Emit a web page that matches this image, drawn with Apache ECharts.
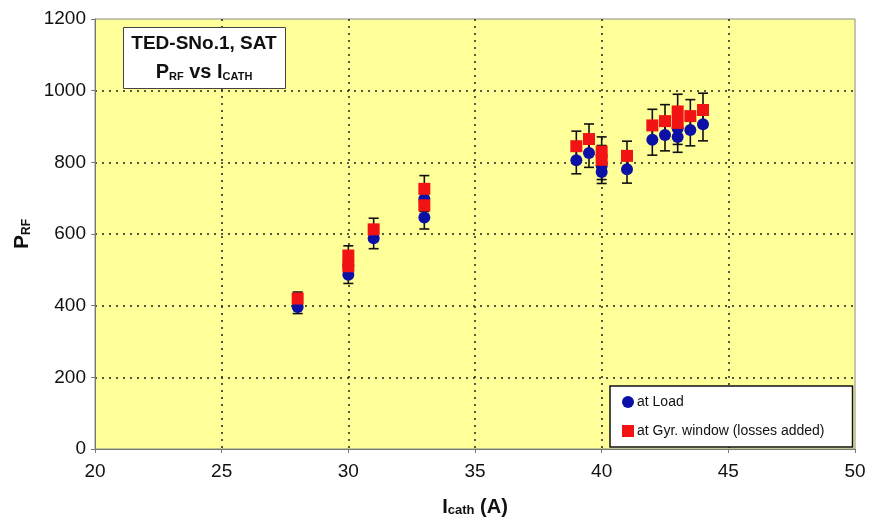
<!DOCTYPE html>
<html>
<head>
<meta charset="utf-8">
<script src="https://cdn.jsdelivr.net/npm/echarts@6/dist/echarts.min.js"></script>
<style>
  html, body { margin: 0; padding: 0; background: #fff; }
  #chart { width: 872px; height: 517px; }
</style>
</head>
<body>
<div id="chart"></div>
<script>
// P_RF vs I_cath, TED-SNo.1 SAT

// ---- data ----
const loadX   = [28, 30, 30, 31, 33, 33, 39, 39.5, 40, 40, 41, 42, 42.5, 43, 43, 43.5, 44];
const loadY   = [396, 486, 512, 588, 646, 698, 806, 826, 773, 790, 781, 863, 876, 871, 895, 890, 906];
const loadErr = [18, 24, 26, 29, 32, 35, 38, 40, 32, 38, 39, 43, 44, 43, 45, 44, 46];

const gyrX   = [28, 30, 30, 31, 33, 33, 39, 39.5, 40, 40, 41, 42, 42.5, 43, 43, 43.5, 44];
const gyrY   = [420, 510, 540, 613, 680, 726, 845, 865, 807, 830, 818, 903, 915, 910, 942, 929, 946];
const gyrErr = [18, 25, 27, 31, 34, 37, 42, 42, 40, 41, 41, 45, 46, 45, 48, 46, 47];

const xTicks = [20, 25, 30, 35, 40, 45, 50];
const yTicks = [0, 200, 400, 600, 800, 1000, 1200];

const FONT = '"Liberation Sans", Arial, sans-serif';
const BLUE = '#0b10a6';
const RED = '#f21414';

// error bar: vertical line + caps
function errBar(params, api) {
  const x = api.value(0), y = api.value(1), e = api.value(2);
  const top = api.coord([x, y + e]);
  const bot = api.coord([x, y - e]);
  const hw = 5;
  const style = { stroke: '#111', lineWidth: 1.6 };
  return {
    type: 'group',
    children: [
      { type: 'line', shape: { x1: top[0], y1: top[1], x2: bot[0], y2: bot[1] }, style },
      { type: 'line', shape: { x1: top[0] - hw, y1: top[1], x2: top[0] + hw, y2: top[1] }, style },
      { type: 'line', shape: { x1: bot[0] - hw, y1: bot[1], x2: bot[0] + hw, y2: bot[1] }, style },
    ],
  };
}

const loadPts = loadX.map((x, i) => [x, loadY[i]]);
const gyrPts = gyrX.map((x, i) => [x, gyrY[i]]);
const loadBars = loadX.map((x, i) => [x, loadY[i], loadErr[i]]);
const gyrBars = gyrX.map((x, i) => [x, gyrY[i], gyrErr[i]]);

const gridLine = { show: true, showMinLine: false, showMaxLine: false, lineStyle: { color: '#222', width: 1.5, type: [2, 5] } };

const chart = echarts.init(document.getElementById('chart'));
chart.setOption({
  animation: false,
  textStyle: { fontFamily: FONT },
  grid: {
    left: 95, right: 17, top: 19, bottom: 68,
    outerBoundsMode: 'none', containLabel: false,
    show: true, backgroundColor: '#ffff99', borderColor: '#8a8a8a', borderWidth: 1,
  },
  xAxis: {
    type: 'value', min: xTicks[0], max: xTicks[xTicks.length - 1], interval: 5,
    name: '{b|I}{s|cath}{b| (A)}', nameLocation: 'middle', nameGap: 44,
    nameTextStyle: {
      rich: {
        b: { fontSize: 20, fontWeight: 'bold', color: '#111', fontFamily: FONT, lineHeight: 24, verticalAlign: 'bottom' },
        s: { fontSize: 13, fontWeight: 'bold', color: '#111', fontFamily: FONT, lineHeight: 15, verticalAlign: 'bottom' },
      },
    },
    axisLine: { lineStyle: { color: '#777', width: 1 } },
    axisTick: { show: true, length: 4, lineStyle: { color: '#777' } },
    axisLabel: { fontSize: 19, color: '#111', margin: 13 },
    splitLine: gridLine,
  },
  yAxis: {
    type: 'value', min: yTicks[0], max: yTicks[yTicks.length - 1], interval: 200,
    name: '{b|P}{s|RF}', nameLocation: 'middle', nameGap: 52, nameRotate: 90,
    nameTextStyle: {
      rich: {
        b: { fontSize: 21, fontWeight: 'bold', color: '#111', fontFamily: FONT, lineHeight: 24, verticalAlign: 'bottom' },
        s: { fontSize: 12, fontWeight: 'bold', color: '#111', fontFamily: FONT, lineHeight: 15, verticalAlign: 'bottom' },
      },
    },
    axisLine: { show: true, lineStyle: { color: '#777', width: 1 } },
    axisTick: { show: true, length: 4, lineStyle: { color: '#777' } },
    axisLabel: { fontSize: 19, color: '#111', margin: 9, formatter: (v) => String(v) },
    splitLine: gridLine,
  },
  legend: {
    orient: 'vertical', left: 610, top: 386,
    data: [
      { name: 'at Load', icon: 'circle' },
      { name: 'at Gyr. window (losses added)', icon: 'rect' },
    ],
    itemWidth: 12, itemHeight: 12, itemGap: 15,
    padding: [9, 28, 9, 12],
    backgroundColor: '#fff', borderColor: '#111', borderWidth: 1.5,
    textStyle: { fontSize: 14, color: '#111', padding: [0, 0, 0, -2] },
  },
  graphic: [
    {
      type: 'rect', left: 123, top: 27, z: 100,
      shape: { width: 162, height: 61 },
      style: { fill: '#fff', stroke: '#444', lineWidth: 1 },
    },
    {
      type: 'text', x: 204, y: 44, z: 101,
      style: {
        text: 'TED-SNo.1, SAT', fill: '#111', font: 'bold 19px ' + FONT,
        align: 'center', verticalAlign: 'middle',
      },
    },
    {
      type: 'text', x: 204, y: 71, z: 101,
      style: {
        text: '{b|P}{s|RF}{b| vs I}{s|CATH}',
        align: 'center', verticalAlign: 'middle',
        rich: {
          b: { fontSize: 20, fontWeight: 'bold', fill: '#111', fontFamily: FONT, lineHeight: 22, verticalAlign: 'bottom' },
          s: { fontSize: 11, fontWeight: 'bold', fill: '#111', fontFamily: FONT, lineHeight: 12, verticalAlign: 'bottom' },
        },
      },
    },
  ],
  series: [
    { type: 'custom', name: 'errLoad', renderItem: errBar, data: loadBars, z: 2, encode: { x: 0, y: 1 } },
    { type: 'custom', name: 'errGyr', renderItem: errBar, data: gyrBars, z: 2, encode: { x: 0, y: 1 } },
    {
      type: 'scatter', name: 'at Load', data: loadPts, z: 3,
      symbol: 'circle', symbolSize: 12, itemStyle: { color: BLUE, opacity: 1 },
    },
    {
      type: 'scatter', name: 'at Gyr. window (losses added)', data: gyrPts, z: 4,
      symbol: 'rect', symbolSize: 12, itemStyle: { color: RED, opacity: 1 },
    },
  ],
});
</script>
</body>
</html>
